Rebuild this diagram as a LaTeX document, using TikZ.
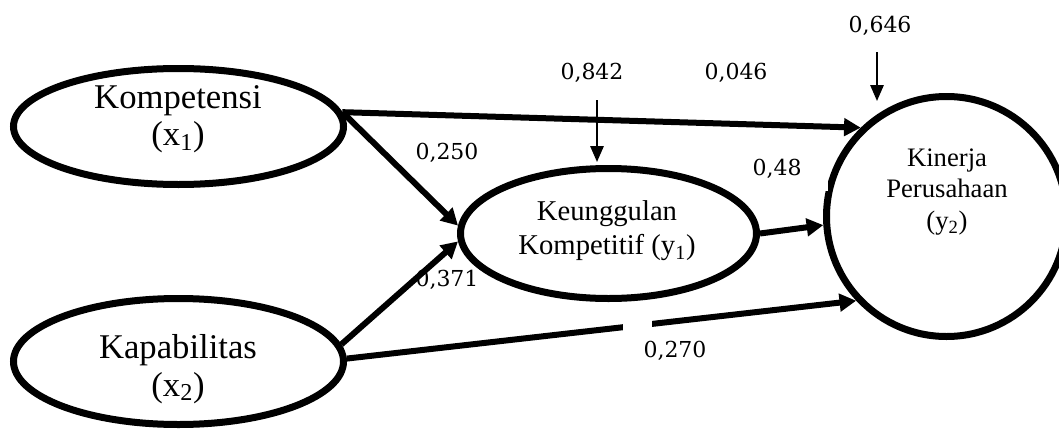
\documentclass[tikz,border=0pt]{standalone}
\usepackage{fontspec}
\setmainfont{Liberation Serif}
\newfontfamily\numfont{DejaVu Serif}
\usetikzlibrary{shapes.geometric,arrows.meta}
\begin{document}
\begin{tikzpicture}[x=0.75pt,y=-0.75pt,
  lat/.style={draw,ellipse,line width=5.25pt,inner sep=0pt},
  bigtxt/.style={font=\fontsize{26}{28}\selectfont,align=center,inner sep=0pt},
  midtxt/.style={font=\fontsize{21.5}{25.5}\selectfont,align=center,inner sep=0pt},
  ytxt/.style={font=\fontsize{20}{23.6}\selectfont,align=center,inner sep=0pt},
  coef/.style={font=\numfont\fontsize{16.5}{19}\selectfont,inner sep=0pt},
  pathar/.style={line width=4.5pt,-{Triangle[length=12.5pt,width=13pt]}},
  errar/.style={line width=1.5pt,-{Triangle[length=12pt,width=10pt]}}]
\useasboundingbox (0,0) rectangle (1059,432);

% latent variables
\node[lat,minimum width=247.5pt,minimum height=87pt] (x1) at (178.5,126.5) {};
\node[lat,minimum width=247.5pt,minimum height=94.5pt] (x2) at (178.5,361.5) {};
\node[lat,minimum width=222pt,minimum height=97.5pt] (y1) at (608.5,233.5) {};
\node[lat,circle,minimum size=180pt] (y2) at (946.5,216.5) {};

\node[bigtxt] (tx1) at (178,119) {Kompetensi\\(x\textsubscript{1})};
\node[bigtxt] (tx2) at (178,369) {Kapabilitas\\(x\textsubscript{2})};
\node[midtxt] (ty1) at (607,231) {Keunggulan\\Kompetitif (y\textsubscript{1})};
\node[ytxt] (ty2) at (947,192) {Kinerja\\Perusahaan\\(y\textsubscript{2})};

% paths
\draw[pathar] (x1.5) -- (y2.134);
\draw[pathar] (x1.5) -- (y1.177);
\draw[pathar] (x2.6) -- (y1.183);
\draw[pathar] (x2.1) -- (y2.223);
\draw[pathar] (y1.0) -- (y2.184);

% gaps in lines
\fill[white] (623,312) rectangle (652,339);
\fill[white] (812,168) rectangle (828,191);

% error terms
\coordinate (e1s) at (597,100);
\coordinate (e1t) at (597,162);
\coordinate (e2s) at (877,52);
\coordinate (e2t) at (877,101);
\draw[errar] (e1s) -- (e1t);
\draw[errar] (e2s) -- (e2t);

% coefficients
\node[coef] (c646) at (880,26) {0,646};
\node[coef] (c842) at (592,73) {0,842};
\node[coef] (c046) at (736,73) {0,046};
\node[coef] (c250) at (447,153) {0,250};
\node[coef] (c48) at (777,169) {0,48};
\node[coef] (c371) at (447,280) {0,371};
\node[coef] (c270) at (675,351) {0,270};
\end{tikzpicture}
\end{document}
